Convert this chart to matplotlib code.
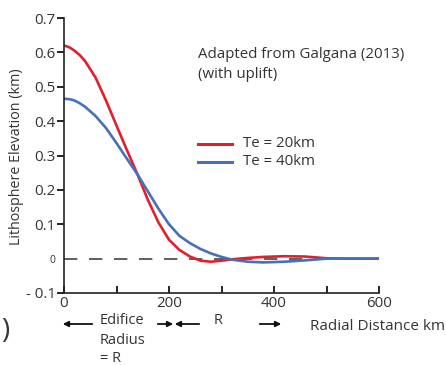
import numpy as np
import matplotlib
matplotlib.use("Agg")
import matplotlib.pyplot as plt

plt.rcParams['font.family'] = ['Open Sans', 'DejaVu Sans']

# --- DATA ---
distance_km = [0, 10, 20, 30, 40, 60, 80, 100, 120, 140, 160, 180, 200, 220,
               240, 260, 280, 300, 320, 350, 380, 420, 460, 500, 540, 600]
elev_te20 = [0.62, 0.615, 0.605, 0.592, 0.575, 0.527, 0.46, 0.387, 0.315,
             0.245, 0.17, 0.105, 0.055, 0.025, 0.006, -0.006, -0.009, -0.006,
             -0.002, 0.002, 0.005, 0.007, 0.006, 0.001, 0.0, 0.0]
elev_te40 = [0.465, 0.464, 0.46, 0.452, 0.442, 0.415, 0.38, 0.336, 0.29,
             0.245, 0.195, 0.145, 0.10, 0.066, 0.045, 0.028, 0.015, 0.005,
             -0.003, -0.009, -0.011, -0.009, -0.005, 0.0, 0.0, 0.0]
series_labels = ['Te = 20km', 'Te = 40km']
y_tick_vals = [0.7, 0.6, 0.5, 0.4, 0.3, 0.2, 0.1, 0.0, -0.1]
y_tick_text = ['0.7', '0.6', '0.5', '0.4', '0.3', '0.2', '0.1', '0', '- 0.1']

RED = '#e2202b'
BLUE = '#4571bb'
TXT = '#333333'
FS = 10.8

fig = plt.figure(figsize=(4.46, 3.65), dpi=100)
ax = fig.add_axes([64 / 446, 1 - 293 / 365, 315 / 446, 275 / 365])

ax.axhline(0, color='#444444', lw=1.2, dashes=(8, 7))
ax.plot(distance_km, elev_te20, color=RED, lw=1.9, label=series_labels[0])
ax.plot(distance_km, elev_te40, color=BLUE, lw=1.9, label=series_labels[1])

ax.set_xlim(0, 600)
ax.set_ylim(-0.1, 0.7)
for s in ['top', 'right']:
    ax.spines[s].set_visible(False)
for s in ['left', 'bottom']:
    ax.spines[s].set_linewidth(1.2)
    ax.spines[s].set_color('#222222')

ax.set_xticks(range(0, 601, 100))
ax.set_xticklabels(['0', '', '200', '', '400', '', '600'])
ax.tick_params(axis='x', direction='in', length=5, width=1.2, pad=2,
               labelsize=FS, labelcolor=TXT)
ax.set_yticks(y_tick_vals)
ax.set_yticklabels(y_tick_text)
ax.tick_params(axis='y', direction='out', length=5, width=1.2, pad=1,
               labelsize=FS, labelcolor=TXT)
for lbl in ax.get_yticklabels():
    if lbl.get_text() == '0':
        lbl.set_fontsize(7.5)
ax.yaxis.get_major_ticks()[7].tick1line.set_visible(False)

# annotations in figure pixel coordinates
def fx(px):
    return px / 446

def fy(py):
    return 1 - py / 365

fig.text(fx(17), fy(157), 'Lithosphere Elevation (km)', fontsize=10.3,
         color=TXT, rotation=90, ha='center', va='center')

fig.text(fx(198), fy(55), 'Adapted from Galgana (2013)', fontsize=FS,
         color=TXT, va='center')
fig.text(fx(198), fy(75), '(with uplift)', fontsize=FS, color=TXT, va='center')

leg_y = [144, 162]
for c, lab, py in zip([RED, BLUE], series_labels, leg_y):
    fig.add_artist(plt.Line2D([fx(198), fx(232)], [fy(py), fy(py)],
                              color=c, lw=2.2))
    fig.text(fx(243), fy(py), lab, fontsize=FS, color=TXT, va='center')

fig.text(fx(310), fy(326), 'Radial Distance km', fontsize=11, color=TXT,
         va='center')
fig.text(fx(100), fy(320), 'Edifice', fontsize=10.5, color=TXT, va='center')
fig.text(fx(100), fy(340), 'Radius', fontsize=10.5, color=TXT, va='center')
fig.text(fx(100), fy(358), '= R', fontsize=10.5, color=TXT, va='center')
fig.text(fx(214), fy(320), 'R', fontsize=10.5, color=TXT, va='center')
fig.text(fx(1), fy(331), ')', fontsize=20, color=TXT, va='center')

arrows = [(95, 60), (155, 176), (202, 172), (257, 284)]
for x0, x1 in arrows:
    fig.add_artist(matplotlib.patches.FancyArrowPatch(
        (fx(x0), fy(324)), (fx(x1), fy(324)), transform=fig.transFigure,
        arrowstyle='-|>', mutation_scale=8, color='#111111', lw=1.3))

fig.savefig('out.png', dpi=100)
